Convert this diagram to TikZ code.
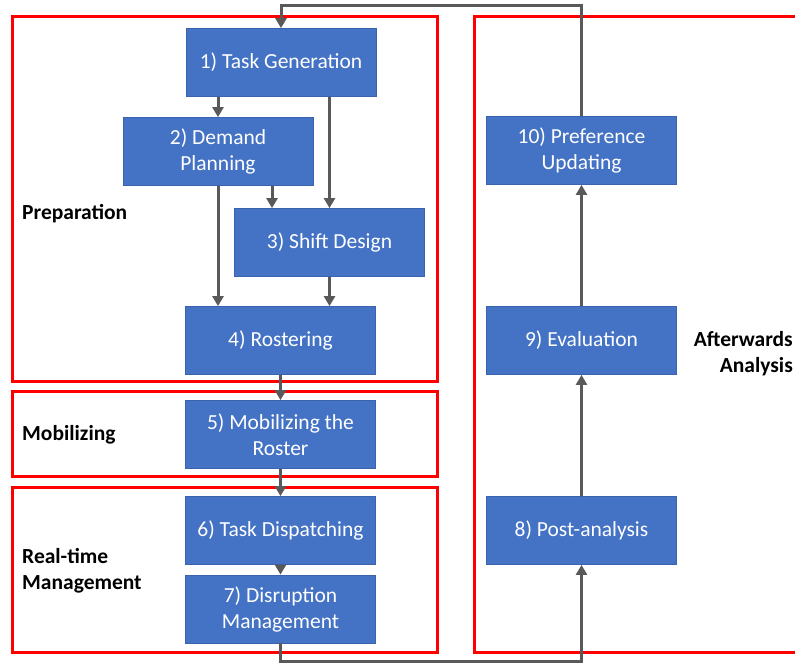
\documentclass[tikz,border=0pt]{standalone}
\usepackage{fontspec}
\setmainfont{Carlito}
\usepackage{tikz}
\usetikzlibrary{arrows.meta}
\definecolor{stepblue}{HTML}{4472C4}
\definecolor{stepedge}{HTML}{3A62AD}
\definecolor{flowgray}{HTML}{595959}

\begin{document}
\begin{tikzpicture}[x=1pt, y=-1pt,
    phase/.style={draw=red, line width=3pt},
    stepbox/.style={fill=stepblue, draw=stepedge, line width=0.8pt, text=white,
        minimum width=190pt, minimum height=68pt, inner sep=0pt, align=center,
        font=\fontsize{21.5}{26}\selectfont},
    phaselabel/.style={inner sep=0pt, font=\fontsize{21.5}{26}\selectfont\bfseries},
    flow/.style={flowgray, line width=3pt, -{Triangle[length=10pt,width=11pt]}},
    baseline=0]
    \useasboundingbox (0,0) rectangle (795,664);
    \draw[phase] (12,16) rectangle (437,381);
    \draw[phase] (12,391) rectangle (437,476);
    \draw[phase] (12,487) rectangle (437,652);
    \draw[phase] (474,16) rectangle (810,652);

    \node[stepbox] (task) at (281,62.5) {1) Task Generation};
    \node[stepbox] (demand) at (218,151.5) {2) Demand\\Planning};
    \node[stepbox] (shift) at (329.5,242.5) {3) Shift Design};
    \node[stepbox] (roster) at (280.5,340.5) {4) Rostering};
    \node[stepbox] (mobil) at (280.5,434.5) {5) Mobilizing the\\Roster};
    \node[stepbox] (dispatch) at (280.5,530.5) {6) Task Dispatching};
    \node[stepbox] (disrupt) at (280.5,609) {7) Disruption\\Management};
    \node[stepbox] (post) at (581.5,530.5) {8) Post-analysis};
    \node[stepbox] (eval) at (581.5,340.5) {9) Evaluation};
    \node[stepbox] (pref) at (581.5,150.5) {10) Preference\\Updating};

    \node[phaselabel, anchor=west] (prep) at (22,214) {Preparation};
    \node[phaselabel, anchor=west] (mob) at (22,435) {Mobilizing};
    \node[phaselabel, anchor=west, align=left] (rt) at (22,571) {Real-time\\Management};
    \node[phaselabel, anchor=east, align=right] (after) at (793,354) {Afterwards\\Analysis};

    \draw[flow] (demand.north |- task.south) -- (demand.north);
    \draw[flow] (shift.north |- task.south) -- (shift.north);
    \draw[flow] (272,0 |- demand.south) -- (272,0 |- shift.north);
    \draw[flow] (demand.south) -- (demand.south |- roster.north);
    \draw[flow] (shift.south) -- (shift.south |- roster.north);
    \draw[flow] (roster) -- (mobil);
    \draw[flow] (mobil) -- (dispatch);
    \draw[flow] (dispatch) -- (disrupt);
    \draw[flow] (disrupt.south) -- (disrupt.south |- 0,661) -| (post.south);
    \draw[flow] (post) -- (eval);
    \draw[flow] (eval) -- (pref);
    \draw[flow] (pref.north) -- (pref.north |- 0,5) -| (task.north);
\end{tikzpicture}
\end{document}
